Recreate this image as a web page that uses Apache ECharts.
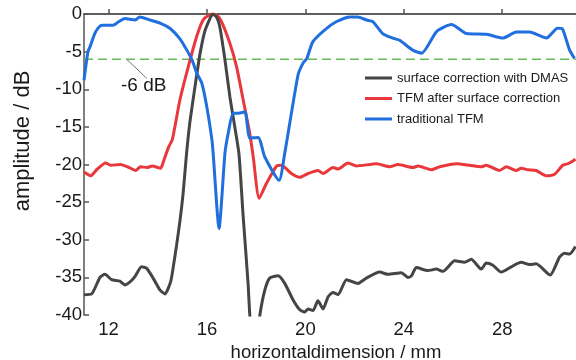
<!DOCTYPE html>
<html>
<head>
<meta charset="utf-8">
<script src="https://cdn.jsdelivr.net/npm/echarts@6/dist/echarts.min.js"></script>
<style>
html,body{margin:0;padding:0;background:#fff;}
#chart{width:576px;height:360px;}
</style>
</head>
<body>
<div id="chart"></div>
<script>
// ---- data (x in mm, y in dB) ----
const seriesNames = ['surface correction with DMAS', 'TFM after surface correction', 'traditional TFM'];
const xTicks = [12, 16, 20, 24, 28];
const yTicks = [0, -5, -10, -15, -20, -25, -30, -35, -40];
const thresholdDb = -6;
const thresholdLabel = '-6 dB';

const dmasX = [11.0, 11.31, 11.65, 11.85, 12.12, 12.46, 12.66, 12.87, 13.07, 13.34, 13.55, 13.81, 14.09, 14.29, 14.52, 14.63, 14.76, 14.90, 15.03, 15.17, 15.30, 15.51, 15.71, 15.91, 16.12, 16.23, 16.39, 16.52, 16.73, 16.93, 17.13, 17.30, 17.47, 17.67, 17.74, 17.92, 18.15, 18.35, 18.55, 18.89, 19.16, 19.50, 19.77, 19.97, 20.11, 20.31, 20.51, 20.72, 20.92, 21.12, 21.33, 21.67, 22.14, 22.48, 23.02, 23.36, 23.90, 24.17, 24.31, 24.51, 24.98, 25.32, 25.59, 26.07, 26.47, 26.74, 27.15, 27.35, 27.62, 27.96, 28.37, 28.77, 29.11, 29.38, 29.95, 30.33, 30.53, 30.74, 30.98];
const dmasY = [-37.3, -37.2, -35.0, -34.6, -35.3, -35.5, -36.0, -35.6, -34.9, -33.6, -33.8, -35.1, -36.7, -37.2, -35.6, -33.6, -30.8, -27.5, -23.8, -18.5, -14.5, -9.7, -5.4, -2.3, -0.6, 0, -0.4, -1.7, -6.1, -11.0, -15.0, -18.6, -26.9, -35.8, -40.0, -46.0, -40.0, -36.7, -35.1, -34.8, -35.8, -38.0, -39.3, -39.6, -39.2, -39.4, -38.1, -39.2, -37.6, -37.0, -37.3, -35.3, -35.8, -35.1, -34.3, -34.6, -34.4, -35.0, -34.8, -33.7, -34.1, -33.9, -34.2, -32.8, -33.0, -32.6, -33.9, -33.1, -33.4, -34.3, -33.6, -33.0, -33.3, -33.2, -34.7, -32.3, -31.8, -31.9, -30.9];

const tfmCorrX = [11.0, 11.27, 11.54, 11.88, 12.08, 12.49, 12.83, 13.10, 13.30, 13.57, 13.77, 14.11, 14.25, 14.45, 14.59, 14.90, 15.24, 15.58, 15.84, 16.05, 16.23, 16.41, 16.59, 16.93, 17.20, 17.47, 17.74, 17.88, 18.12, 18.42, 18.83, 19.03, 19.43, 19.77, 20.11, 20.51, 20.72, 21.12, 21.33, 21.73, 22.07, 22.89, 23.43, 23.76, 24.37, 24.58, 25.12, 25.46, 26.14, 26.68, 27.15, 27.35, 27.89, 28.17, 28.57, 28.77, 29.04, 29.38, 29.79, 30.13, 30.46, 30.67, 30.98];
const tfmCorrY = [-21.0, -21.5, -20.6, -19.8, -20.1, -20.0, -20.4, -20.8, -20.3, -20.4, -20.2, -20.5, -19.4, -17.6, -16.7, -11.4, -7.0, -3.0, -0.8, -0.2, 0, -0.2, -1.0, -3.9, -7.0, -11.4, -15.9, -19.0, -24.5, -22.5, -20.2, -20.1, -21.2, -21.7, -21.2, -20.8, -21.2, -20.4, -20.6, -19.8, -20.2, -19.9, -20.3, -20.0, -20.4, -20.2, -20.7, -20.3, -19.9, -20.1, -20.3, -20.1, -20.8, -20.3, -20.8, -20.5, -20.7, -20.8, -21.5, -21.3, -20.1, -19.9, -19.3];

const tradX = [11.0, 11.16, 11.24, 11.45, 11.65, 11.77, 12.06, 12.18, 12.38, 12.66, 13.07, 13.27, 13.68, 14.09, 14.49, 14.90, 15.18, 15.39, 15.59, 15.79, 15.99, 16.20, 16.25, 16.49, 16.73, 16.86, 17.06, 17.27, 17.54, 17.74, 18.08, 18.35, 18.93, 19.16, 19.70, 19.91, 20.06, 20.30, 20.79, 21.27, 21.80, 22.13, 22.49, 22.74, 23.14, 23.55, 23.83, 24.36, 24.73, 25.34, 25.94, 26.55, 27.37, 28.02, 28.58, 29.11, 29.80, 30.25, 30.45, 30.74, 30.94];
const tradY = [-8.8, -5.0, -4.4, -2.5, -1.6, -1.5, -1.5, -1.5, -1.1, -0.6, -0.8, -0.4, -0.8, -1.2, -1.9, -3.3, -4.8, -6.1, -7.9, -9.2, -12.3, -16.7, -18.5, -28.5, -18.5, -15.9, -13.2, -13.2, -13.0, -16.5, -16.4, -19.0, -22.1, -18.5, -8.1, -6.5, -5.9, -3.7, -2.1, -1.0, -0.4, -0.4, -0.8, -1.0, -2.6, -3.2, -3.5, -4.8, -5.2, -2.3, -1.4, -2.6, -2.7, -3.2, -2.4, -2.4, -3.2, -1.9, -2.0, -4.8, -5.9];

// arrow of the "-6 dB" annotation (data coords)
const arrowFrom = [12.73, -6];
const arrowTo = [13.55, -8.55];

const pair = (xs, ys) => xs.map((x, i) => [x, ys[i]]);
const FONT = '"Liberation Sans", Arial, sans-serif';
const axisColor = '#555';
const textColor = '#1a1a1a';

const chart = echarts.init(document.getElementById('chart'), null, {renderer: 'canvas'});
chart.setOption({
  animation: false,
  backgroundColor: '#fff',
  grid: {left: 84, right: 0, top: 14, bottom: 45, containLabel: false, outerBoundsMode: 'none'},
  legend: {
    orient: 'vertical', left: 365, top: 68, padding: 0,
    icon: 'rect', itemWidth: 27, itemHeight: 3, itemGap: 0.5,
    textStyle: {fontFamily: FONT, fontSize: 13, color: textColor, lineHeight: 20},
    data: seriesNames
  },
  xAxis: [{
    type: 'value', min: 11, max: 31,
    name: 'horizontaldimension / mm', nameLocation: 'middle', nameGap: 25,
    nameTextStyle: {fontFamily: FONT, fontSize: 18.5, color: textColor, padding: [0, 0, 0, 12]},
    axisLine: {show: true, lineStyle: {color: axisColor, width: 1.5}},
    axisTick: {show: true, inside: true, length: 5, customValues: xTicks, lineStyle: {color: axisColor, width: 1.5}},
    axisLabel: {customValues: xTicks, fontFamily: FONT, fontSize: 18.5, color: textColor, margin: 5},
    splitLine: {show: false}
  }, {
    type: 'value', min: 11, max: 31, position: 'top',
    axisLine: {show: true, onZero: false, lineStyle: {color: axisColor, width: 1.5}},
    axisTick: {show: false}, axisLabel: {show: false}, splitLine: {show: false}
  }],
  yAxis: {
    type: 'value', min: -40, max: 0, interval: 5,
    name: 'amplitude / dB', nameLocation: 'middle', nameGap: 50,
    nameTextStyle: {fontFamily: FONT, fontSize: 22, color: textColor, padding: [0, 0, 0, 47]},
    axisLine: {show: true, onZero: false, lineStyle: {color: axisColor, width: 1.5}},
    axisTick: {show: true, inside: true, length: 5, lineStyle: {color: axisColor, width: 1.5}},
    axisLabel: {fontFamily: FONT, fontSize: 18.5, color: textColor, margin: 2},
    splitLine: {show: false}
  },
  series: [
    {
      name: seriesNames[0], type: 'line', data: pair(dmasX, dmasY),
      showSymbol: false, smooth: 0.2, clip: true, color: '#454545',
      lineStyle: {width: 3, color: '#454545'}, z: 3
    },
    {
      name: seriesNames[1], type: 'line', data: pair(tfmCorrX, tfmCorrY),
      showSymbol: false, smooth: 0.2, clip: true, color: '#e8383b',
      lineStyle: {width: 3, color: '#e8383b'}, z: 2
    },
    {
      name: seriesNames[2], type: 'line', data: pair(tradX, tradY),
      showSymbol: false, smooth: 0.2, clip: true, color: '#1f6fde',
      lineStyle: {width: 3, color: '#1f6fde'}, z: 4
    },
    {
      name: 'threshold', type: 'line', data: [[11, thresholdDb], [31, thresholdDb]],
      showSymbol: false, silent: true, color: '#66bb55',
      lineStyle: {width: 1.5, type: [9, 5], color: '#66bb55'}, z: 1,
      markLine: {
        silent: true, animation: false,
        lineStyle: {color: '#777', width: 1, type: 'solid'},
        label: {show: false},
        symbol: ['none', 'arrow'], symbolSize: [0, 8],
        data: [[{coord: arrowFrom}, {coord: arrowTo, symbol: 'arrow', itemStyle: {color: '#111'}}]]
      }
    }
  ],
  graphic: [{
    type: 'text', left: 121, top: 76,
    style: {text: thresholdLabel, font: '19px ' + FONT, fill: textColor}
  }]
});
</script>
</body>
</html>
